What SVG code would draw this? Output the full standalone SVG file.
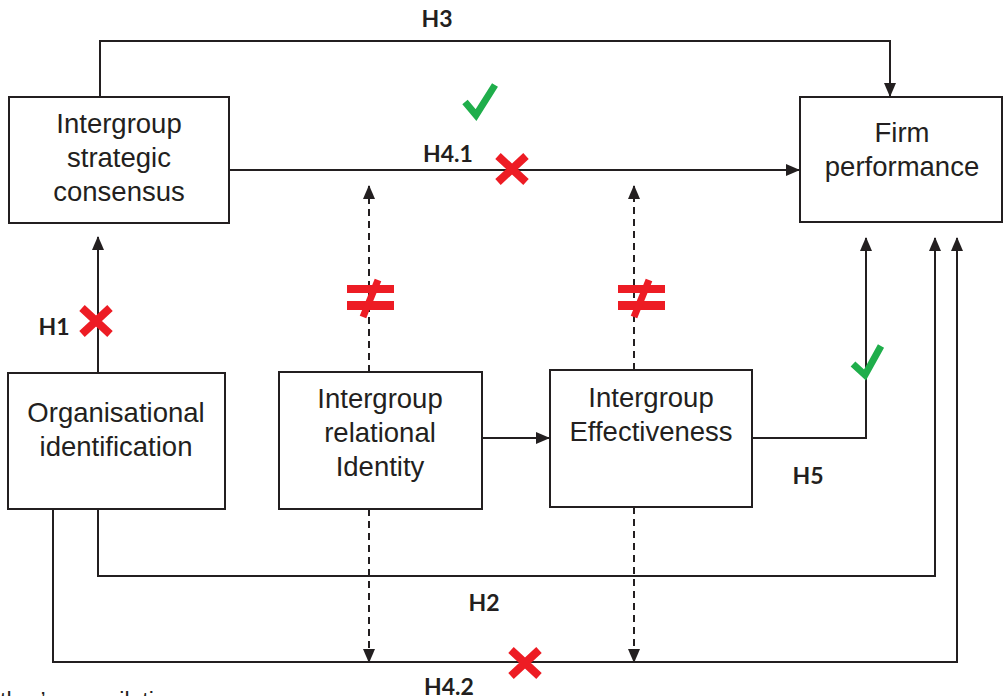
<svg xmlns="http://www.w3.org/2000/svg" width="1004" height="696" viewBox="0 0 1004 696">
<style>
.box{fill:#fff;stroke:#231f20;stroke-width:2}
.t{font-family:"Liberation Sans",Arial,sans-serif;font-size:27.5px;fill:#231f20;text-anchor:middle}
.lb{font-family:Lato,"Liberation Sans",sans-serif;font-weight:bold;font-size:23px;fill:#231f20;text-anchor:middle}
.ln{fill:none;stroke:#231f20;stroke-width:2}
.ds{fill:none;stroke:#231f20;stroke-width:2;stroke-dasharray:7 5}
.x{stroke:#ed1c24;stroke-width:8}
.ck{fill:none;stroke:#1fae4b;stroke-width:7}
.ne{fill:#ed1c24}
</style>
<defs>
<marker id="ah" markerWidth="14" markerHeight="12" refX="13" refY="6" orient="auto" markerUnits="userSpaceOnUse">
<path d="M0,0 L14,6 L0,12 Z" fill="#231f20"/>
</marker>
</defs>
<g id="connectors">
<path class="ln" d="M100,97 V41 H890 V96" marker-end="url(#ah)"/>
<path class="ln" d="M229,170 H799" marker-end="url(#ah)"/>
<path class="ln" d="M98,373 V237" marker-end="url(#ah)"/>
<path class="ds" d="M369,372 V186" marker-end="url(#ah)"/>
<path class="ds" d="M369,509 V662" marker-end="url(#ah)"/>
<path class="ds" d="M634,370 V186" marker-end="url(#ah)"/>
<path class="ds" d="M634,507 V662" marker-end="url(#ah)"/>
<path class="ln" d="M482,438 H549" marker-end="url(#ah)"/>
<path class="ln" d="M752,438 H866 V238" marker-end="url(#ah)"/>
<path class="ln" d="M98,509 V576 H935 V238" marker-end="url(#ah)"/>
<path class="ln" d="M53,509 V662 H957 V238" marker-end="url(#ah)"/>
</g>
<g id="consensus"><rect class="box" x="9" y="97" width="220" height="126"/>
<text class="t" x="119" y="133">Intergroup</text><text class="t" x="119" y="167">strategic</text><text class="t" x="119" y="201">consensus</text></g>
<g id="performance"><rect class="box" x="800" y="97" width="202" height="125"/>
<text class="t" x="902" y="142">Firm</text><text class="t" x="902" y="176">performance</text></g>
<g id="orgid"><rect class="box" x="8" y="373" width="217" height="136"/>
<text class="t" x="116" y="422">Organisational</text><text class="t" x="116" y="456">identification</text></g>
<g id="relational"><rect class="box" x="279" y="372" width="203" height="137"/>
<text class="t" x="380" y="408">Intergroup</text><text class="t" x="380" y="442">relational</text><text class="t" x="380" y="476">Identity</text></g>
<g id="effectiveness"><rect class="box" x="550" y="370" width="202" height="137"/>
<text class="t" x="651" y="407">Intergroup</text><text class="t" x="651" y="441">Effectiveness</text></g>
<g id="labels">
<text class="lb" x="437" y="27">H3</text>
<text class="lb" x="448" y="162">H4.1</text>
<text class="lb" x="54" y="335">H1</text>
<text class="lb" x="808" y="484">H5</text>
<text class="lb" x="484" y="611">H2</text>
<text class="lb" x="449" y="695">H4.2</text>
</g>
<g id="marks">
<path class="x" d="M498,156 L526,182 M526,156 L498,182"/>
<path class="x" d="M82,308 L110,334 M110,308 L82,334"/>
<path class="x" d="M511,650 L539,676 M539,650 L511,676"/>
<path class="ck" d="M465,102 L476,115 L495,85"/>
<path class="ck" d="M853,364 L865,375 L881,346"/>
<rect class="ne" x="347" y="285" width="47" height="8"/>
<rect class="ne" x="347" y="301" width="47" height="9"/>
<path d="M378,280 L363,317" stroke="#ed1c24" stroke-width="7"/>
<rect class="ne" x="618" y="285" width="47" height="8"/>
<rect class="ne" x="618" y="301" width="47" height="9"/>
<path d="M649,280 L634,317" stroke="#ed1c24" stroke-width="7"/>
</g>
<text x="0" y="709" font-family="Liberation Sans,Arial,sans-serif" font-size="23" fill="#231f20">thor’s compilation</text>
</svg>
